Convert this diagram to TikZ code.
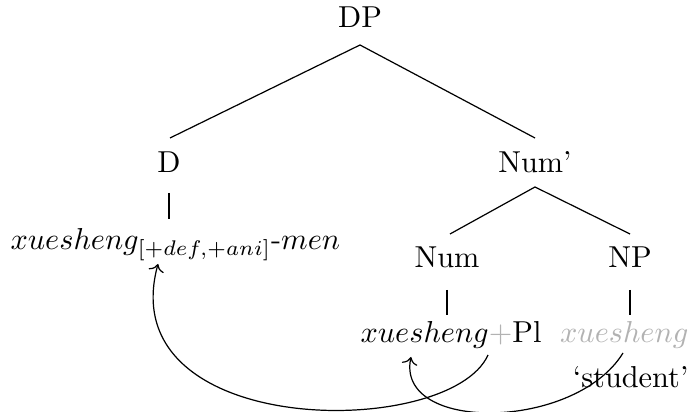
\documentclass[tikz,border=0pt]{standalone}
\usetikzlibrary{arrows.meta}
\begin{document}
\begin{tikzpicture}[x=0.33pt,y=-0.33pt,
  lbl/.style={inner sep=0pt,anchor=base},
  branch/.style={line width=0.4pt},
  mv/.style={->,line width=0.4pt},
  ghost/.style={black!30}]
\useasboundingbox (0,0) rectangle (691,412);
% labels
\node[lbl] (DP) at (360,28) {DP};
\node[lbl] (D) at (169,173) {D};
\node[lbl] (Numbar) at (535,173) {Num'};
\node[lbl,anchor=base west] (Dw) at (10,250) {$xuesheng_{[+def,+ani]}$-$men$};
\node[lbl] (Num) at (447,268) {Num};
\node[lbl] (NP) at (630,268) {NP};
\node[lbl,anchor=base west] (Numw) at (360,343) {$xuesheng$\textcolor{black!30}{$+$}Pl};
\node[lbl,anchor=base east,ghost] (NPw) at (689,343) {$xuesheng$};
\node[lbl,anchor=base east] (gloss) at (689,388) {`student'};
% branch points
\coordinate (DPb) at (360,45);
\coordinate (Dt) at (170,138);
\coordinate (Nbt) at (535,138);
\coordinate (Db) at (169,193);
\coordinate (Dwt) at (169,219);
\coordinate (Nbb) at (535,187);
\coordinate (Numt) at (450,234);
\coordinate (NPt) at (630,234);
\coordinate (Numb) at (447,290);
\coordinate (Numwt) at (447,315);
\coordinate (NPb) at (630,290);
\coordinate (NPwt) at (630,315);
\draw[branch] (Dt) -- (DPb) -- (Nbt);
\draw[branch] (Db) -- (Dwt);
\draw[branch] (Numt) -- (Nbb) -- (NPt);
\draw[branch] (Numb) -- (Numwt);
\draw[branch] (NPb) -- (NPwt);
% movement arrows
\coordinate (m1s) at (488,355);
\coordinate (m1e) at (158,264);
\coordinate (m2s) at (623,353);
\coordinate (m2e) at (411,357);
\draw[mv] (m1s) .. controls (450,440) and (110,440) .. (m1e);
\draw[mv] (m2s) .. controls (575,431) and (395,433) .. (m2e);
\end{tikzpicture}
\end{document}
